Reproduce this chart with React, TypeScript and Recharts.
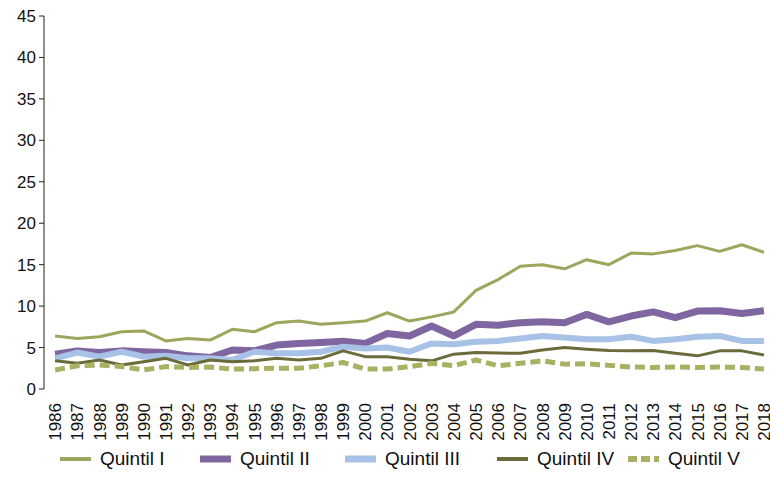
import React from "react";
import { LineChart, Line, XAxis, YAxis } from "recharts";

const years = [
  1986, 1987, 1988, 1989, 1990, 1991, 1992, 1993, 1994, 1995, 1996,
  1997, 1998, 1999, 2000, 2001, 2002, 2003, 2004, 2005, 2006, 2007,
  2008, 2009, 2010, 2011, 2012, 2013, 2014, 2015, 2016, 2017, 2018,
];

const quintilI = [
  6.4, 6.1, 6.3, 6.9, 7.0, 5.8, 6.1, 5.9, 7.2, 6.9, 8.0,
  8.2, 7.8, 8.0, 8.2, 9.2, 8.2, 8.7, 9.3, 11.9, 13.2, 14.8,
  15.0, 14.5, 15.6, 15.0, 16.4, 16.3, 16.7, 17.3, 16.6, 17.4, 16.5,
];
const quintilII = [
  4.2, 4.6, 4.4, 4.6, 4.5, 4.4, 4.0, 3.8, 4.7, 4.6, 5.3,
  5.5, 5.6, 5.75, 5.5, 6.7, 6.4, 7.6, 6.4, 7.8, 7.7, 8.0,
  8.1, 8.0, 9.0, 8.1, 8.8, 9.3, 8.6, 9.4, 9.45, 9.1, 9.45,
];
const quintilIII = [
  3.7, 4.4, 3.9, 4.5, 3.9, 4.0, 3.7, 3.7, 3.5, 4.5, 4.3,
  4.3, 4.5, 5.1, 4.9, 5.0, 4.5, 5.5, 5.4, 5.7, 5.8, 6.1,
  6.4, 6.2, 6.0, 6.0, 6.3, 5.8, 6.0, 6.3, 6.4, 5.8, 5.8,
];
const quintilIV = [
  3.4, 3.1, 3.5, 2.9, 3.3, 3.7, 2.9, 3.5, 3.3, 3.4, 3.7,
  3.5, 3.7, 4.6, 3.9, 3.9, 3.6, 3.4, 4.2, 4.4, 4.35, 4.3,
  4.7, 5.0, 4.8, 4.65, 4.6, 4.65, 4.3, 4.0, 4.6, 4.6, 4.1,
];
const quintilV = [
  2.3, 2.8, 2.9, 2.7, 2.3, 2.7, 2.6, 2.65, 2.4, 2.45, 2.5,
  2.5, 2.8, 3.2, 2.4, 2.4, 2.7, 3.1, 2.8, 3.5, 2.8, 3.1,
  3.4, 3.0, 3.05, 2.85, 2.65, 2.6, 2.65, 2.6, 2.65, 2.6, 2.4,
];

const yTicks = [0, 5, 10, 15, 20, 25, 30, 35, 40, 45];

const seriesNames = ["Quintil I", "Quintil II", "Quintil III", "Quintil IV", "Quintil V"];

const data = years.map((year, i) => ({
  year,
  q1: quintilI[i],
  q2: quintilII[i],
  q3: quintilIII[i],
  q4: quintilIV[i],
  q5: quintilV[i],
}));

const boundaries = years.slice(0, -1).map((y) => y + 0.5);

const FONT = "'Liberation Sans', Arial, sans-serif";

const series = [
  { key: "q1", color: "#9da65c", width: 3, dash: undefined as string | undefined },
  { key: "q2", color: "#8066a0", width: 7, dash: undefined },
  { key: "q3", color: "#a7c2e6", width: 6, dash: undefined },
  { key: "q4", color: "#6b6a3a", width: 3, dash: undefined },
  { key: "q5", color: "#a8b062", width: 5, dash: "10 5" },
];

const XTick = (props: any) => {
  const { x, y, payload } = props;
  return (
    <g transform={`translate(${x},${y})`}>
      <text
        transform="rotate(-90)"
        x={-14}
        y={0}
        dy="0.36em"
        textAnchor="end"
        fontSize={17}
        fontFamily={FONT}
        fill="#111"
      >
        {payload.value}
      </text>
    </g>
  );
};

const legendOffsets = [60, 200, 345, 497, 628];

const Legend = () => (
  <div style={{ position: "absolute", left: 0, top: 446, width: 770, height: 26 }}>
    {series.map((s, i) => (
      <div
        key={s.key}
        style={{
          position: "absolute",
          left: legendOffsets[i],
          top: 0,
          height: 26,
          display: "flex",
          alignItems: "center",
          whiteSpace: "nowrap",
        }}
      >
        <svg width={31} height={10} style={{ display: "block" }}>
          <line
            x1={0}
            x2={31}
            y1={5}
            y2={5}
            stroke={s.color}
            strokeWidth={s.key === "q2" || s.key === "q3" ? 7 : s.key === "q5" ? 6 : 4}
            strokeDasharray={s.dash ? "9 4" : undefined}
          />
        </svg>
        <span
          style={{
            marginLeft: 9,
            fontFamily: FONT,
            fontSize: 19,
            color: "#111",
          }}
        >
          {seriesNames[i]}
        </span>
      </div>
    ))}
  </div>
);

export default function App() {
  return (
    <div
      style={{
        position: "absolute",
        left: 0,
        top: 0,
        width: 770,
        height: 496,
        overflow: "hidden",
        background: "#fff",
      }}
    >
      <LineChart
        width={790}
        height={496}
        data={data}
        margin={{ top: 16, right: 15, left: 0, bottom: 47 }}
      >
        <XAxis
          xAxisId="bnd"
          type="number"
          dataKey="year"
          domain={[1985.5, 2018.5]}
          ticks={boundaries}
          tick={false}
          tickSize={6}
          tickLine={{ stroke: "#222" }}
          axisLine={{ stroke: "#222" }}
          height={0}
          allowDataOverflow
        />
        <XAxis
          xAxisId="lab"
          type="number"
          dataKey="year"
          domain={[1985.5, 2018.5]}
          ticks={years}
          interval={0}
          tick={<XTick />}
          tickLine={false}
          axisLine={false}
          tickSize={0}
          tickMargin={0}
          height={60}
          allowDataOverflow
        />
        <YAxis
          type="number"
          domain={[0, 45]}
          ticks={yTicks}
          interval={0}
          width={44}
          tickSize={5}
          tickMargin={3}
          tickLine={{ stroke: "#222" }}
          axisLine={{ stroke: "#222" }}
          tick={{ fontSize: 17, fontFamily: FONT, fill: "#111" }}
        />
        {series.map((s) => (
          <Line
            key={s.key}
            xAxisId="lab"
            type="linear"
            dataKey={s.key}
            stroke={s.color}
            strokeWidth={s.width}
            strokeDasharray={s.dash}
            dot={false}
            activeDot={false}
            isAnimationActive={false}
            strokeLinejoin="round"
          />
        ))}
      </LineChart>
      <Legend />
    </div>
  );
}
